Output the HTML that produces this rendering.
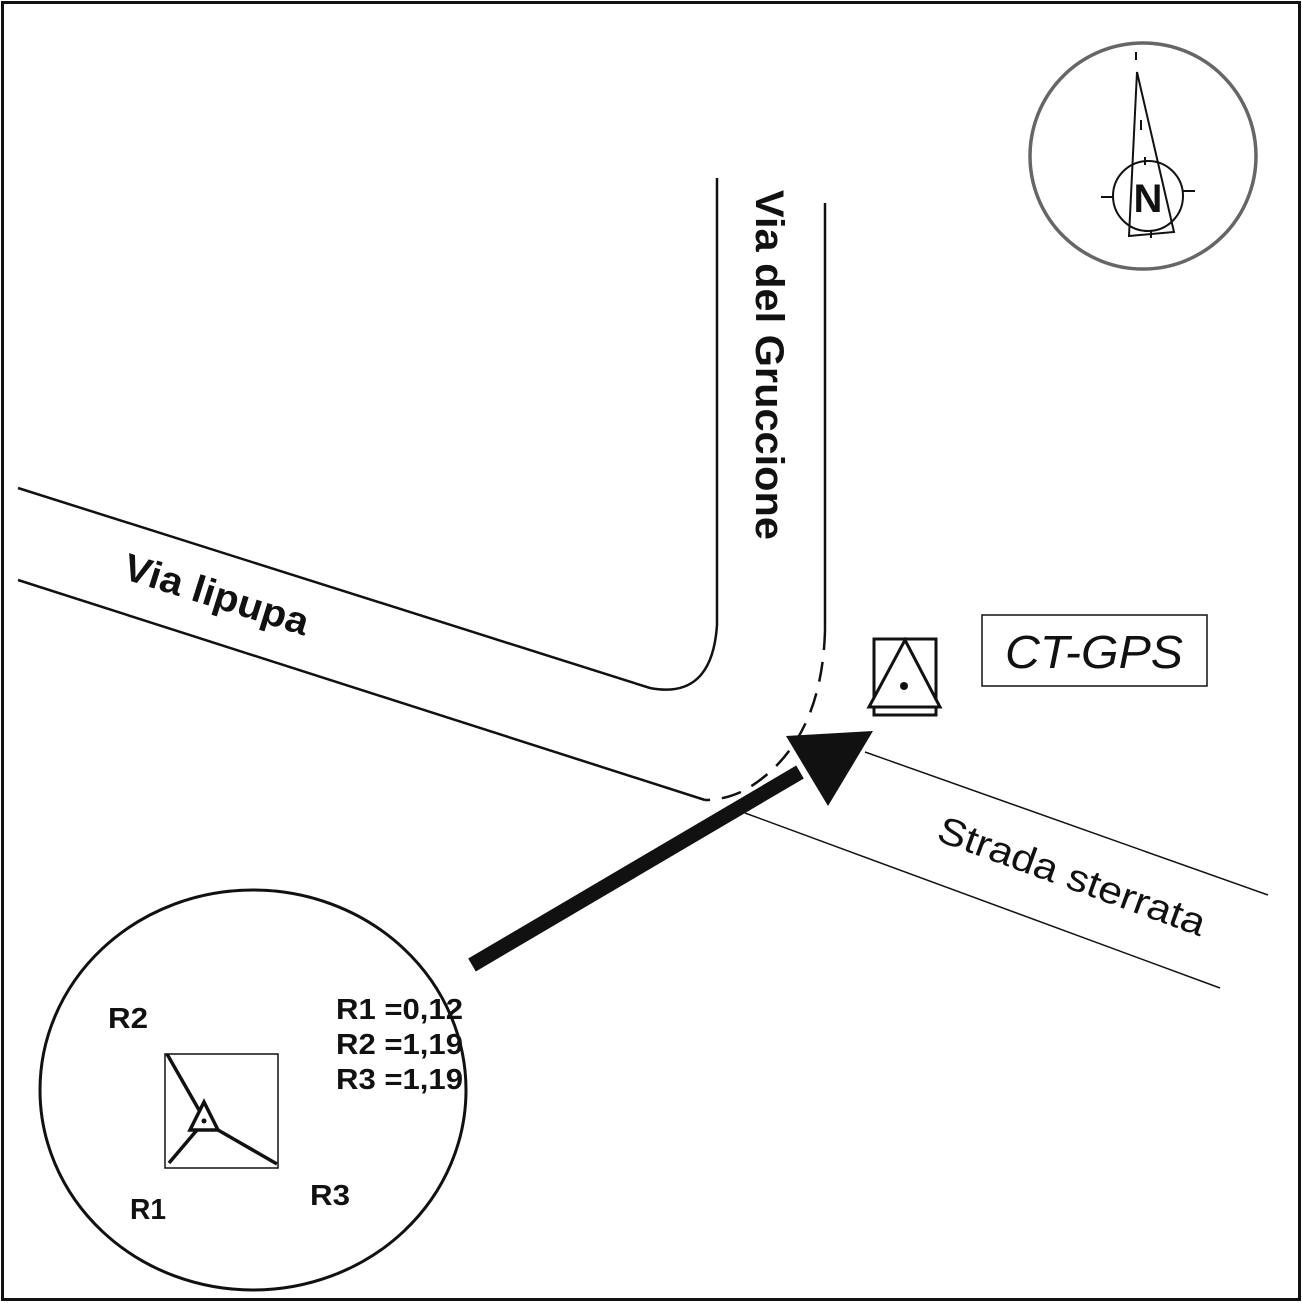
<!DOCTYPE html>
<html><head><style>body{margin:0;background:#fff}svg{display:block}</style></head><body>
<svg width="1303" height="1303" viewBox="0 0 1303 1303" xmlns="http://www.w3.org/2000/svg" font-family="Liberation Sans, Arial, sans-serif">
<rect x="2.5" y="2.5" width="1297" height="1297" fill="none" stroke="#111" stroke-width="3"/>
<g fill="none" stroke="#111" stroke-width="2.5">
<path d="M717 178 L717 625 Q712 700 650 688 L18 488"/>
<path d="M825 203 L825 630"/>
<path d="M825 630 Q822 745 745 790 Q725 800 705 800" stroke-dasharray="20 12"/>
<path d="M18 580 L705 800"/>
<path d="M745 813 L1220 988" stroke-width="1.5"/>
<path d="M865 752 L1268 895" stroke-width="1.5"/>
</g>
<line x1="472" y1="965" x2="800" y2="772" stroke="#111" stroke-width="15"/>
<polygon points="786,736 873,731 828,806" fill="#111"/>
<text transform="translate(756,190) rotate(90)" font-size="40" font-weight="bold" fill="#111" textLength="350" lengthAdjust="spacingAndGlyphs">Via del Gruccione</text>
<text transform="translate(121,578) rotate(17.5)" font-size="38" font-weight="bold" fill="#111" textLength="192" lengthAdjust="spacingAndGlyphs">Via lipupa</text>
<text transform="translate(935,840) rotate(20)" font-size="38" fill="#111" textLength="282" lengthAdjust="spacingAndGlyphs">Strada sterrata</text>
<rect x="982" y="615" width="225" height="71" fill="none" stroke="#111" stroke-width="1.5"/>
<text x="1005" y="668" font-size="46" font-style="italic" fill="#111" textLength="178" lengthAdjust="spacingAndGlyphs">CT-GPS</text>
<g stroke="#111" stroke-width="3" fill="none">
<rect x="874" y="639" width="62" height="76"/>
<polygon points="905,640 869,707 940,707" fill="#fff"/>
</g>
<circle cx="904" cy="686" r="4" fill="#111"/>
<ellipse cx="253" cy="1090" rx="213" ry="200" fill="none" stroke="#111" stroke-width="3"/>
<rect x="165" y="1054" width="113" height="114" fill="none" stroke="#111" stroke-width="1.5"/>
<g stroke="#111" stroke-width="3.5" fill="none">
<line x1="167" y1="1054" x2="199" y2="1110"/>
<line x1="197" y1="1130" x2="169" y2="1163"/>
<line x1="218" y1="1130" x2="277" y2="1164"/>
<polygon points="204,1102 190,1130 218,1130" fill="#fff"/>
</g>
<circle cx="204" cy="1121" r="2.5" fill="#111"/>
<g font-size="29" font-weight="bold" fill="#111">
<text x="108" y="1028" textLength="40" lengthAdjust="spacingAndGlyphs">R2</text>
<text x="130" y="1219" textLength="36" lengthAdjust="spacingAndGlyphs">R1</text>
<text x="310" y="1205" textLength="40" lengthAdjust="spacingAndGlyphs">R3</text>
<text x="336" y="1019" textLength="127" lengthAdjust="spacingAndGlyphs">R1 =0,12</text>
<text x="336" y="1054" textLength="127" lengthAdjust="spacingAndGlyphs">R2 =1,19</text>
<text x="336" y="1089" textLength="127" lengthAdjust="spacingAndGlyphs">R3 =1,19</text>
</g>
<circle cx="1143" cy="156" r="113" fill="none" stroke="#666" stroke-width="3.5"/>
<g stroke="#111" stroke-width="2" fill="none">
<polygon points="1137,72 1174,232 1129,236"/>
<circle cx="1148" cy="196" r="35"/>
<line x1="1101" y1="197" x2="1113" y2="197"/>
<line x1="1183" y1="191" x2="1195" y2="191"/>
<line x1="1136" y1="52" x2="1136" y2="60"/>
<line x1="1141" y1="120" x2="1141" y2="130"/>
<line x1="1145" y1="157" x2="1145" y2="165"/>
<line x1="1151" y1="230" x2="1151" y2="238"/>
</g>
<text x="1148" y="212" font-size="40" font-weight="bold" text-anchor="middle" fill="#111">N</text>
</svg>
</body></html>
